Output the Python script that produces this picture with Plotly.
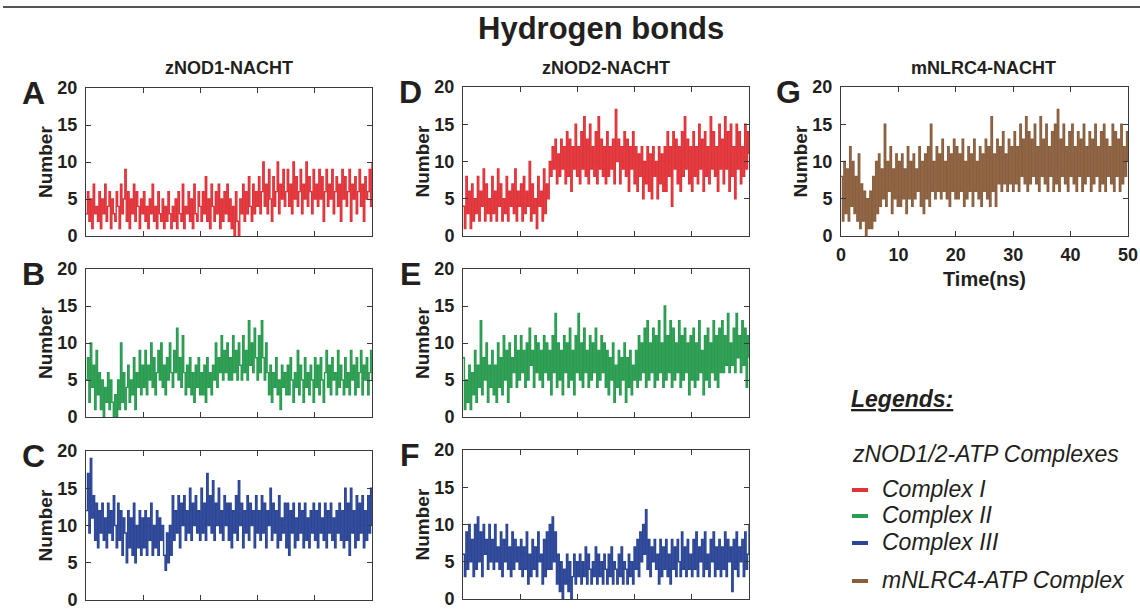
import numpy as np
import plotly.graph_objects as go

W, H = 1140, 615

# ---------------- data (hydrogen bond counts) ----------------
znod1_complex1 = [
    3,6,2,5,1,7,3,4,2,6,1,5,3,7,2,4,6,1,5,3,
    2,6,4,1,7,3,5,9,2,6,1,5,3,7,2,6,4,1,5,3,
    6,2,4,1,5,3,7,2,4,1,6,3,2,5,1,4,2,6,3,1,
    4,2,5,1,6,3,2,7,1,4,3,6,2,5,1,7,3,2,6,4,
    2,6,3,8,2,5,1,7,4,2,6,3,7,1,5,2,6,3,7,2,
    5,1,4,0,6,2,0,5,3,7,2,6,3,8,4,2,7,3,6,4,
    8,3,6,10,4,7,3,9,5,2,8,4,6,10,3,7,5,9,4,6,
    9,4,7,3,10,5,8,4,6,9,3,7,5,10,4,8,6,3,9,5,
    7,4,9,5,8,2,6,9,4,7,5,9,3,6,8,4,7,2,9,5,
    8,4,6,9,2,7,5,8,3,6,9,4,7,2,8,5,6,9,4,10,
]
znod1_complex2 = [
    5,8,2,10,4,7,1,9,3,6,1,5,0,4,2,6,1,5,2,0,
    3,0,5,1,10,2,6,1,4,7,2,5,3,8,1,6,4,9,3,7,
    4,9,3,7,5,10,4,8,3,6,9,5,10,4,7,3,8,5,10,6,
    4,9,6,12,5,8,4,11,6,3,7,4,8,3,6,2,7,4,8,3,
    6,3,7,2,8,4,6,3,7,5,10,4,8,6,11,5,9,6,10,5,
    8,5,11,6,9,5,10,7,5,11,6,9,5,13,7,10,6,12,8,5,
    11,6,13,8,5,10,6,3,7,2,6,4,8,3,5,1,7,4,6,3,
    7,3,8,5,2,6,4,9,3,7,5,2,8,4,6,3,7,5,2,8,
    4,7,3,8,5,2,6,9,4,7,3,8,5,6,3,9,4,7,5,3,
    8,4,6,3,9,5,7,3,8,4,6,9,3,7,5,8,3,6,9,5,
]
znod1_complex3 = [
    12,17,9,19,11,14,8,13,7,12,9,13,8,11,7,13,9,12,8,14,
    10,7,13,8,12,6,11,9,5,12,7,11,6,13,5,10,7,12,6,11,
    7,12,6,11,8,13,6,10,7,12,6,11,8,10,6,4,9,5,10,6,
    14,8,12,9,14,7,13,10,14,8,12,9,15,8,13,10,14,9,12,8,
    15,9,13,8,17,10,14,9,16,8,13,10,15,9,12,8,14,10,13,8,
    13,7,12,9,14,8,16,10,13,7,12,9,14,8,13,10,12,7,14,9,
    12,8,14,9,13,7,12,10,15,8,13,9,12,7,14,8,11,9,13,7,
    13,6,12,9,13,7,11,8,13,9,12,7,13,8,11,7,12,9,13,8,
    12,7,13,9,11,8,13,7,12,9,13,8,11,7,12,9,13,8,12,7,
    15,8,13,6,15,9,12,7,14,8,13,9,14,7,12,8,14,9,15,10,
]
znod2_complex1 = [
    4,1,8,3,6,1,7,2,5,3,8,2,6,4,9,2,7,3,5,2,
    8,3,6,2,9,4,7,2,5,3,8,2,6,4,7,3,9,2,6,4,
    7,2,8,3,6,4,10,2,7,3,5,1,8,4,6,2,9,3,7,5,
    10,8,12,9,13,7,11,8,13,9,12,7,14,8,13,6,12,9,15,8,
    12,7,14,9,16,8,13,7,15,9,12,8,14,7,16,9,13,8,12,7,
    14,8,12,9,13,7,17,10,13,7,12,9,14,8,13,6,12,9,14,7,
    12,6,11,8,12,5,10,7,12,6,11,5,12,8,10,5,12,7,11,6,
    12,6,14,8,12,4,14,9,13,7,12,6,14,8,16,9,13,7,12,6,
    14,8,12,7,15,9,13,6,14,8,12,7,16,9,14,8,12,6,15,9,
    13,7,16,9,14,6,15,8,12,5,15,9,14,7,12,8,15,9,14,11,
]
znod2_complex2 = [
    8,1,5,2,7,1,6,3,9,2,7,4,13,3,8,5,10,2,7,4,
    9,3,7,2,10,4,8,3,11,5,9,2,10,4,8,6,11,4,9,5,
    11,6,9,4,10,5,12,7,9,4,11,6,10,5,9,4,11,6,10,5,
    9,3,11,6,14,4,10,5,9,3,11,6,10,4,12,5,9,3,11,6,
    14,5,10,4,12,6,9,4,11,5,10,6,12,4,9,5,11,6,10,4,
    9,3,8,5,10,2,7,4,9,3,8,5,10,2,8,4,9,3,7,5,
    9,4,11,5,10,6,12,4,13,5,10,6,12,4,11,5,13,6,10,4,
    15,5,11,6,13,4,12,5,10,6,13,4,11,5,12,6,10,3,11,5,
    12,4,10,5,13,6,9,3,11,5,12,4,10,6,13,5,11,4,12,6,
    13,6,11,7,14,6,10,7,12,6,14,8,11,6,13,7,12,4,11,8,
]
znod2_complex3 = [
    6,3,9,4,10,5,8,3,10,4,11,5,9,3,10,6,8,4,10,5,
    8,4,10,5,7,4,9,3,8,5,10,4,7,3,9,4,8,5,7,4,
    8,3,7,4,9,2,6,3,8,4,7,3,9,5,6,2,8,3,9,4,
    10,4,11,5,9,2,6,1,5,0,4,2,6,1,5,0,3,6,2,5,
    3,6,2,5,3,7,2,6,4,2,5,3,7,2,6,3,5,2,6,4,
    2,6,3,7,2,5,4,2,6,3,7,2,5,4,2,6,3,5,2,7,
    4,8,3,9,5,10,6,12,4,8,3,7,5,8,4,6,2,8,3,7,
    4,8,3,6,2,8,4,7,3,8,5,3,9,4,7,3,8,4,6,3,
    8,4,9,3,7,5,8,3,9,4,6,3,8,5,9,3,7,4,8,3,
    7,4,9,3,8,5,7,1,8,4,9,3,7,5,8,3,9,4,6,10,
]
mnlrc4_complex = [
    8,2,10,3,9,2,12,4,10,3,8,2,11,1,7,2,6,0,5,1,
    6,1,8,2,10,3,11,4,9,5,15,4,10,6,12,3,9,5,11,4,
    10,4,11,5,9,3,12,5,10,4,11,5,9,6,12,4,10,3,11,5,
    12,4,15,6,10,5,12,6,11,5,13,6,10,5,12,4,11,6,13,5,
    12,5,11,6,13,4,10,5,12,6,11,4,13,6,10,5,12,4,11,6,
    13,5,12,4,16,6,11,4,13,7,12,6,14,7,11,6,13,7,12,6,
    14,7,12,6,15,8,13,7,16,6,14,7,13,8,15,7,12,6,16,8,
    13,7,15,6,12,8,14,6,15,7,17,6,13,8,15,7,12,6,14,8,
    15,7,12,6,14,8,13,6,15,7,12,8,14,6,13,7,15,8,12,6,
    14,7,15,6,13,8,12,7,15,6,14,8,13,6,15,7,12,8,14,10,
]

time_range = [0, 50]
x_ticks = [0, 10, 20, 30, 40, 50]
y_ticks = [0, 5, 10, 15, 20]
column_titles = ["zNOD1-NACHT", "zNOD2-NACHT", "mNLRC4-NACHT"]
legend_labels = ["Complex I", "Complex II", "Complex III", "mNLRC4-ATP Complex"]

RED, GREEN, BLUE, BROWN = "#e1343a", "#2a9c50", "#2b4697", "#8a5f3e"
INK = "#231f20"
FONT = "Liberation Sans, Arial, sans-serif"

# (letter, values, colour, x0, x1, ytop, ybottom, show x labels)  -- pixel layout
panels = [
    ("A", znod1_complex1, RED,   86, 372, 88, 236, False),
    ("B", znod1_complex2, GREEN, 86, 372, 269, 417, False),
    ("C", znod1_complex3, BLUE,  86, 372, 451, 600, False),
    ("D", znod2_complex1, RED,   463, 749, 87, 236, False),
    ("E", znod2_complex2, GREEN, 463, 749, 269, 417, False),
    ("F", znod2_complex3, BLUE,  463, 749, 450, 599, False),
    ("G", mnlrc4_complex, BROWN, 841, 1128, 87, 236, True),
]

fx = lambda px: px / W
fy = lambda py: 1 - py / H

fig = go.Figure()
layout = {}
annotations = []

for i, (letter, vals, color, x0, x1, yt, yb, showx) in enumerate(panels):
    n = i + 1
    sfx = "" if n == 1 else str(n)
    t = np.linspace(time_range[0], time_range[1], len(vals))
    fig.add_trace(go.Scatter(
        x=t, y=vals, mode="lines", line=dict(color=color, width=1.4, shape="hv"),
        xaxis="x" + sfx, yaxis="y" + sfx, showlegend=False, hoverinfo="skip",
    ))
    common = dict(showline=True, linecolor="#3a3a3a", linewidth=1, mirror="ticks",
                  ticks="inside", ticklen=5, tickwidth=1, tickcolor="#3a3a3a",
                  showgrid=False, zeroline=False, fixedrange=True, automargin=False,
                  tickfont=dict(family=FONT, size=18, color=INK, weight="bold"))
    layout["xaxis" + sfx] = dict(common, domain=[fx(x0), fx(x1)], anchor="y" + sfx,
                                 range=time_range, tickvals=x_ticks,
                                 showticklabels=showx, ticklabelstandoff=2)
    layout["yaxis" + sfx] = dict(common, domain=[fy(yb), fy(yt)], anchor="x" + sfx,
                                 range=[0, 20], tickvals=y_ticks, ticklabelstandoff=4)
    # panel letter
    annotations.append(dict(text="<b>%s</b>" % letter, xref="paper", yref="paper",
                            x=fx(x0 - 53), y=fy(yt + 5), xanchor="center", yanchor="middle",
                            showarrow=False, font=dict(family=FONT, size=32, color=INK)))
    # y title
    annotations.append(dict(text="<b>Number</b>", xref="paper", yref="paper",
                            x=fx(x0 - 41), y=fy((yt + yb) / 2), xanchor="center", yanchor="middle",
                            textangle=-90, showarrow=False,
                            font=dict(family=FONT, size=19, color=INK)))
    if showx:
        annotations.append(dict(text="<b>Time(ns)</b>", xref="paper", yref="paper",
                                x=fx((x0 + x1) / 2), y=fy(279), xanchor="center", yanchor="middle",
                                showarrow=False, font=dict(family=FONT, size=20, color=INK)))

# column titles
for title, cx in zip(column_titles, [229, 606, 983]):
    annotations.append(dict(text="<b>%s</b>" % title, xref="paper", yref="paper",
                            x=fx(cx), y=fy(68), xanchor="center", yanchor="middle",
                            showarrow=False, font=dict(family=FONT, size=18, color=INK)))

# main title
annotations.append(dict(text="<b>Hydrogen bonds</b>", xref="paper", yref="paper",
                        x=fx(601), y=fy(29), xanchor="center", yanchor="middle",
                        showarrow=False, font=dict(family=FONT, size=31, color=INK)))

# legend block
annotations.append(dict(text="<b><i><u>Legends:</u></i></b>", xref="paper", yref="paper",
                        x=fx(849), y=fy(399), xanchor="left", yanchor="middle",
                        showarrow=False, font=dict(family=FONT, size=23, color=INK)))
annotations.append(dict(text="<i>zNOD1/2-ATP Complexes</i>", xref="paper", yref="paper",
                        x=fx(850), y=fy(454), xanchor="left", yanchor="middle",
                        showarrow=False, font=dict(family=FONT, size=23, color=INK)))
shapes = []
for label, color, ly in zip(legend_labels, [RED, GREEN, BLUE, BROWN], [489, 515, 542, 580]):
    annotations.append(dict(text="<i>%s</i>" % label, xref="paper", yref="paper",
                            x=fx(880), y=fy(ly), xanchor="left", yanchor="middle",
                            showarrow=False, font=dict(family=FONT, size=23, color=INK)))
    shapes.append(dict(type="line", xref="paper", yref="paper",
                       x0=fx(852), x1=fx(868), y0=fy(ly + 1), y1=fy(ly + 1),
                       line=dict(color=color, width=4)))

# top rule
shapes.append(dict(type="line", xref="paper", yref="paper", x0=fx(3), x1=1, y0=fy(7), y1=fy(7),
                   line=dict(color="#555555", width=2)))

fig.update_layout(
    width=W, height=H, margin=dict(l=0, r=0, t=0, b=0, autoexpand=False),
    paper_bgcolor="white", plot_bgcolor="white",
    annotations=annotations, shapes=shapes, **layout,
)

fig.write_html("out.html", config={"displayModeBar": False},
               post_script="document.body.style.margin='0';document.body.style.overflow='hidden';")
